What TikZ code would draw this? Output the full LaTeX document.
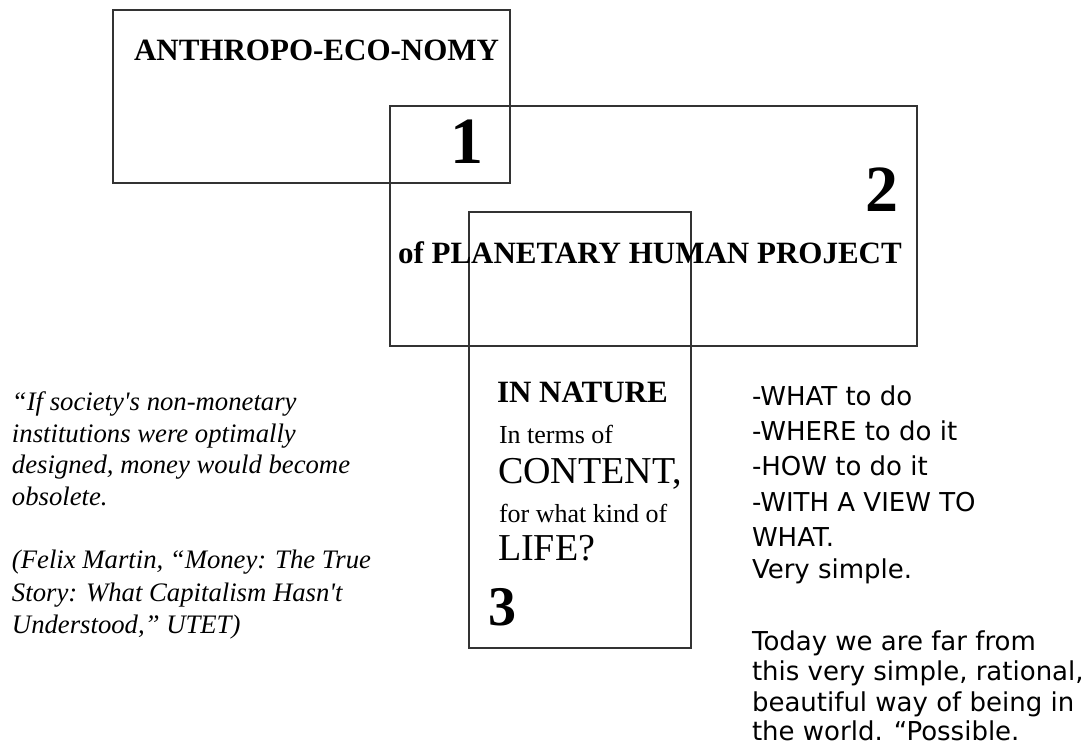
\documentclass[tikz,border=0pt]{standalone}
\usepackage{fontspec}
\setmainfont{Liberation Serif}[Ligatures=TeXOff]
\newfontfamily\listfont{DejaVu Sans}[Ligatures=TeXOff]
\usetikzlibrary{positioning}

\begin{document}
\begin{tikzpicture}[
  x=1pt, y=-1pt,
  every node/.style={inner sep=0pt, outer sep=0pt},
  box/.style={draw=black!80, line width=1.1pt, anchor=north west},
  heading/.style={anchor=base west, font=\fontsize{31}{36}\selectfont\bfseries},
  number/.style={anchor=base east, font=\fontsize{66}{70}\selectfont\bfseries},
  quote/.style={anchor=base west, font=\fontsize{26.7}{31}\selectfont\itshape},
  small/.style={anchor=base west, font=\fontsize{26}{31}\selectfont},
  large/.style={anchor=base west, font=\fontsize{38}{42}\selectfont},
  list/.style={anchor=base west, font=\fontsize{26}{31}\selectfont\listfont}
]
\useasboundingbox (0,0) rectangle (1086,747);

% The three overlapping frames
\node[box, minimum width=397pt, minimum height=173pt] (frameA) at (113,10) {};
\node[box, minimum width=527pt, minimum height=240pt] (frameB) at (390,106) {};
\node[box, minimum width=222pt, minimum height=436pt] (frameC) at (469,212) {};

% Frame 1
\node[heading] (anthropo) at (134,60) {ANTHROPO-ECO-NOMY};
\node[number] (numA) at (483,163) {1};

% Frame 2
\node[number] (numB) at (898,211) {2};
\node[heading] (planetary) at (398,263) {of PLANETARY HUMAN PROJECT};

% Frame 3
\node[heading] (nature) at (497,402) {IN NATURE};
\node[small] (terms) at (499,443) {In terms of};
\node[large] (content) at (498,483) {CONTENT,};
\node[small] (kind) at (499,522) {for what kind of};
\node[large] (life) at (498,560) {LIFE?};
\node[number, anchor=base west, font=\fontsize{56}{60}\selectfont\bfseries] (numC) at (488,625) {3};

% Quotation on the left
\node[quote] (qA) at (12,410) {“If society's non-monetary};
\node[quote] (qB) at (12,442) {institutions were optimally};
\node[quote] (qC) at (12,473) {designed, money would become};
\node[quote] (qD) at (12,505) {obsolete.};
\node[quote] (qE) at (12,568) {(Felix Martin, “Money: The True};
\node[quote] (qF) at (12,601) {Story: What Capitalism Hasn't};
\node[quote] (qG) at (12,633) {Understood,” UTET)};

% List on the right
\node[list] (what) at (752,405) {-WHAT to do};
\node[list] (where) at (752,440) {-WHERE to do it};
\node[list] (how) at (752,475) {-HOW to do it};
\node[list] (view) at (752,511) {-WITH A VIEW TO};
\node[list] (whatB) at (752,546) {WHAT.};
\node[list] (simple) at (752,578) {Very simple.};
\node[list] (today) at (752,650) {Today we are far from};
\node[list] (rational) at (752,680) {this very simple, rational,};
\node[list] (beautiful) at (752,711) {beautiful way of being in};
\node[list] (world) at (752,740) {the world. “Possible.};

\end{tikzpicture}
\end{document}
